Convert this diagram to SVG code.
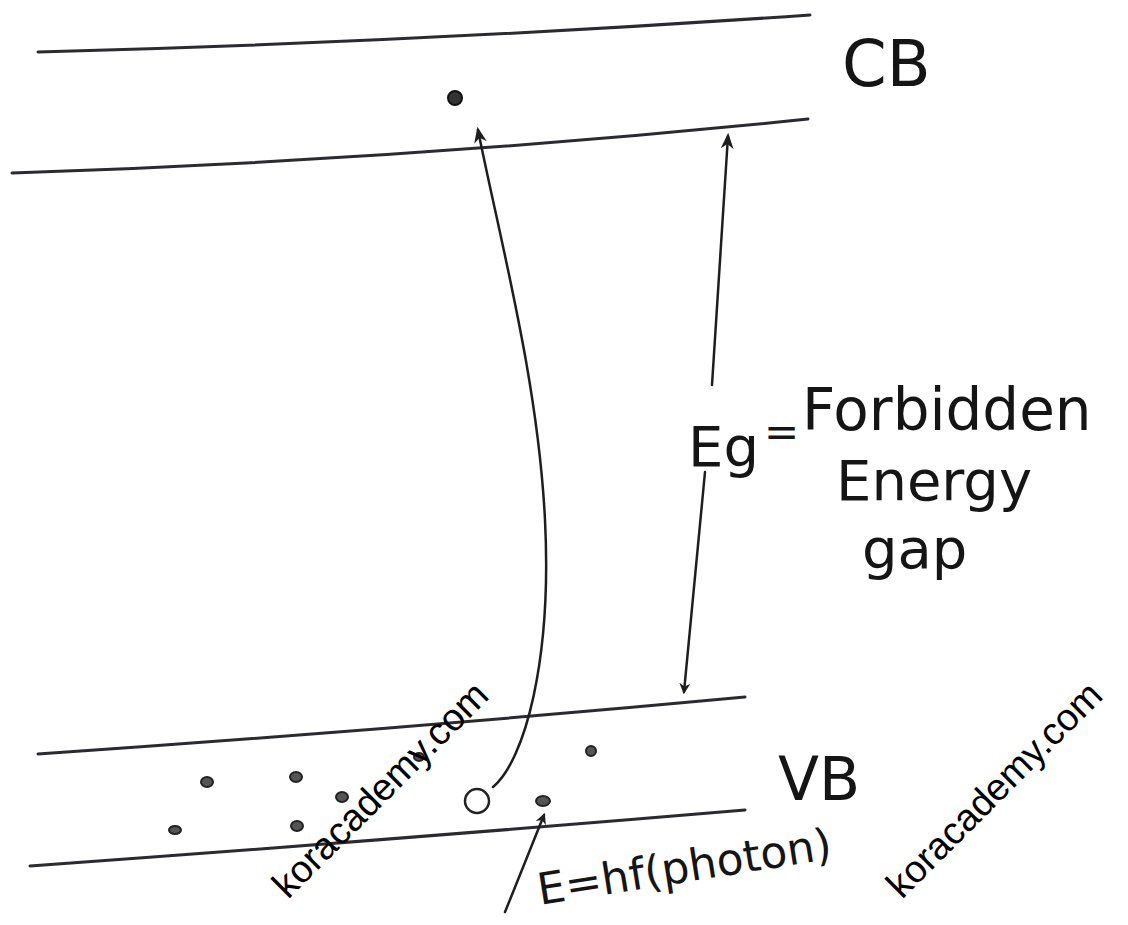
<svg xmlns="http://www.w3.org/2000/svg" width="1128" height="925" viewBox="0 0 1128 925">
<defs>
<style>
.band{fill:none;stroke:#2a2a30;stroke-width:3;stroke-linecap:round}
.con{fill:none;stroke:#1e1e1e;stroke-width:2.5;stroke-linecap:round}
.hw{font-family:"DejaVu Sans","Liberation Sans",sans-serif;fill:#151515}
.dot{fill:#555;stroke:#222;stroke-width:2}
.wm{font-family:"Liberation Sans",Arial,sans-serif;font-size:38px;fill:#000}
</style>
<marker id="ah" viewBox="0 0 10 10" refX="8" refY="5" markerWidth="11" markerHeight="11" orient="auto" markerUnits="userSpaceOnUse">
<path d="M0,0 L10,5 L0,10 L3,5 Z" fill="#1e1e1e"/>
</marker>
<marker id="ah2" viewBox="0 0 10 10" refX="8" refY="5" markerWidth="16" markerHeight="16" orient="auto" markerUnits="userSpaceOnUse">
<path d="M0,1 L10,5 L0,9 L3,5 Z" fill="#1e1e1e"/>
</marker>
</defs>
<rect width="1128" height="925" fill="#fff"/>

<g id="conduction-band">
<path class="band" d="M38,52 Q420,42 810,15"/>
<path class="band" d="M12,173 Q410,160 808,119"/>
<text class="hw" x="842" y="86" font-size="64">CB</text>
</g>

<g id="valence-band">
<path class="band" d="M38,754 Q390,730 745,697"/>
<path class="band" d="M30,866 Q390,840 745,810"/>
<text class="hw" x="778" y="800" font-size="60">VB</text>
</g>

<g id="electron">
<circle cx="455" cy="98" r="7" fill="#333" stroke="#111" stroke-width="2"/>
</g>

<g id="hole">
<circle cx="477" cy="801" r="12" fill="none" stroke="#222" stroke-width="2.5"/>
</g>

<g id="vb-electrons">
<ellipse class="dot" cx="207" cy="782" rx="6" ry="5"/>
<ellipse class="dot" cx="296" cy="777" rx="6" ry="5"/>
<ellipse class="dot" cx="342" cy="797" rx="6" ry="5"/>
<ellipse class="dot" cx="297" cy="826" rx="6" ry="5"/>
<ellipse class="dot" cx="175" cy="830" rx="6" ry="4"/>
<ellipse class="dot" cx="419" cy="757" rx="5" ry="4"/>
<ellipse class="dot" cx="543" cy="801" rx="7" ry="5"/>
<ellipse class="dot" cx="591" cy="751" rx="5" ry="5"/>
</g>

<g id="energy-gap-label">
<text class="hw" x="688" y="466" font-size="56">Eg</text>
<text class="hw" x="764" y="446" font-size="42">=</text>
<text class="hw" x="802" y="430" font-size="58">Forbidden</text>
<text class="hw" x="836" y="500" font-size="56">Energy</text>
<text class="hw" x="862" y="568" font-size="56">gap</text>
</g>

<g id="photon-label">
<text class="hw" x="540" y="905" font-size="44" transform="rotate(-9 540 905)">E=hf(photon)</text>
</g>

<g id="connectors">
<path class="con" d="M493,787 C525,760 552,660 545,520 C538,380 500,240 478,130" marker-end="url(#ah2)"/>
<path class="con" d="M712,385 L728,136" marker-end="url(#ah2)"/>
<path class="con" d="M705,472 L684,692" marker-end="url(#ah)"/>
<path class="con" d="M505,912 L544,815" marker-end="url(#ah)"/>
</g>

<g id="watermarks">
<text class="wm" x="288" y="900" transform="rotate(-45 288 900)">koracademy.com</text>
<text class="wm" x="902" y="900" transform="rotate(-45 902 900)">koracademy.com</text>
</g>
</svg>
